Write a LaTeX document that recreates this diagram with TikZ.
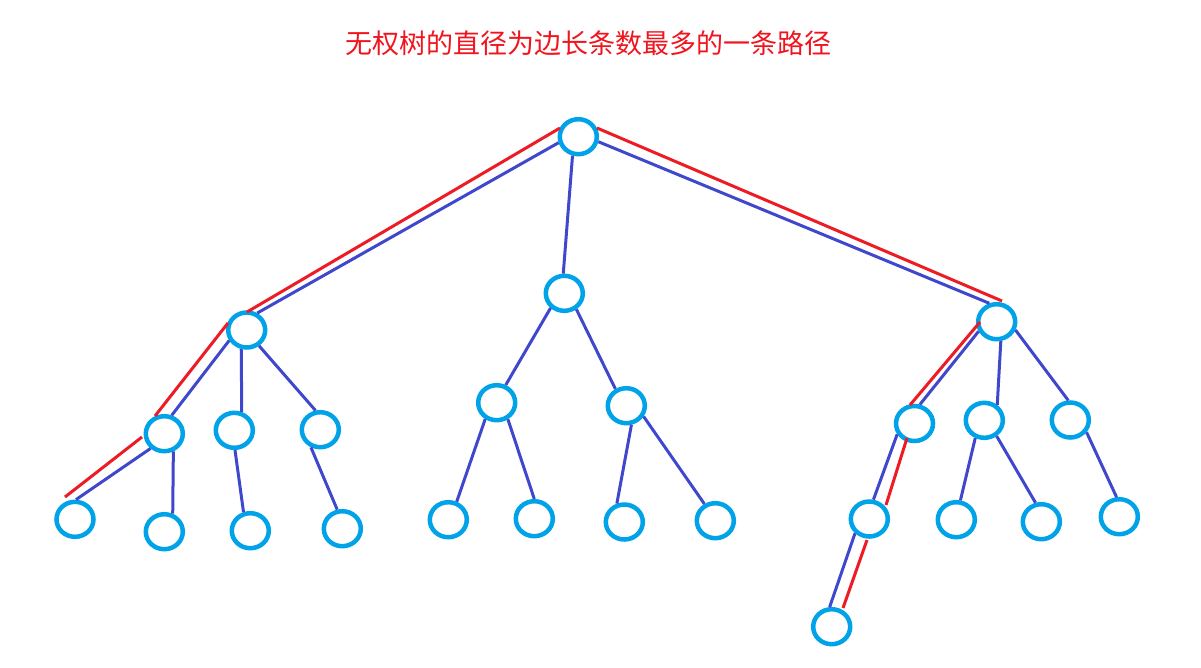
\documentclass[tikz,border=0pt]{standalone}
\usepackage{fontspec}
\newfontfamily\cjk{Noto Sans CJK SC}
\usetikzlibrary{shapes.geometric}
\definecolor{vtxc}{HTML}{00A2E8}
\definecolor{edgec}{HTML}{3F48CC}
\definecolor{pathc}{HTML}{ED1C24}
\definecolor{titlec}{HTML}{F0141E}
\tikzset{
  vtx/.style={ellipse, draw=vtxc, line width=4.5pt, minimum width=37pt, minimum height=35pt, inner sep=0pt},
  edge/.style={draw=edgec, line width=3pt},
  diam/.style={draw=pathc, line width=3pt}
}
\begin{document}
\begin{tikzpicture}[x=1pt,y=-1pt]
\useasboundingbox (0,0) rectangle (1201,667);
\node[text=titlec, font=\cjk\fontsize{27}{27}\selectfont] (title) at (588,43) {无权树的直径为边长条数最多的一条路径};
% nodes
\node[vtx] (r) at (578.3,136.7) {};
\node[vtx] (A) at (246.7,330) {};
\node[vtx] (B) at (564.3,293.3) {};
\node[vtx] (C) at (996.7,321.7) {};
\node[vtx] (A1) at (164.3,433.7) {};
\node[vtx] (A2) at (234.3,430.3) {};
\node[vtx] (A3) at (320.3,429.7) {};
\node[vtx] (B1) at (496.7,402.7) {};
\node[vtx] (B2) at (626.3,405.7) {};
\node[vtx] (C1) at (914.5,423.5) {};
\node[vtx] (C2) at (984.3,420.3) {};
\node[vtx] (C3) at (1070.3,420) {};
\node[vtx] (A1a) at (75,519.3) {};
\node[vtx] (A1b) at (164.3,531.7) {};
\node[vtx] (A2a) at (250.3,530.7) {};
\node[vtx] (A3a) at (342.3,528.7) {};
\node[vtx] (B1a) at (448.3,519.7) {};
\node[vtx] (B1b) at (534.3,518.7) {};
\node[vtx] (B2a) at (624.3,522) {};
\node[vtx] (B2b) at (715.3,520.7) {};
\node[vtx] (C1a) at (869.3,519) {};
\node[vtx] (C2a) at (956.3,519.7) {};
\node[vtx] (C2b) at (1041.3,521.7) {};
\node[vtx] (C3a) at (1119.3,516.7) {};
\node[vtx] (C1aa) at (831.7,626.7) {};
% blue edges
\draw[edge] (r.197) -- (A.58);
\draw[edge] (r.-107) -- (B.93);
\draw[edge] (r.-14) -- (C.112);
\draw[edge] (A.211) -- (A1.68);
\draw[edge] (A.-106) -- (A2.68);
\draw[edge] (A.-52) -- (A3.104);
\draw[edge] (A1.-133) -- (A1a.87);
\draw[edge] (A1.-63) -- (A1b.65);
\draw[edge] (A2.-88) -- (A2a.110);
\draw[edge] (A3.-118) -- (A3a.105);
\draw[edge] (B.-133) -- (B1.63);
\draw[edge] (B.-53) -- (B2.123);
\draw[edge] (B1.-125) -- (B1a.65);
\draw[edge] (B1.-56) -- (B1b.90);
\draw[edge] (B2.-75) -- (B2a.112);
\draw[edge] (B2.-32) -- (B2b.123);
\draw[edge] (C.-152) -- (C1.74);
\draw[edge] (C.-78) -- (C2.50);
\draw[edge] (C.-24) -- (C3.96);
\draw[edge] (C1.-148) -- (C1a.78);
\draw[edge] (C1a.-135) -- (C1aa.96);
\draw[edge] (C2.-117) -- (C2a.78);
\draw[edge] (C2.-52) -- (C2b.107);
\draw[edge] (C3.-37) -- (C3a.98);
% red diameter path
\coordinate (p1) at (65,497);
\coordinate (p2) at (142,437);
\coordinate (p3) at (155,416);
\coordinate (p4) at (228,323);
\coordinate (p5) at (247,312);
\coordinate (p6) at (560,128);
\coordinate (p7) at (597,128);
\coordinate (p8) at (1002,301);
\coordinate (p9) at (980,322);
\coordinate (p10) at (910,405);
\coordinate (p11) at (907,438);
\coordinate (p12) at (886,505);
\coordinate (p13) at (867,540);
\coordinate (p14) at (843,608);
\draw[diam] (p1) -- (p2);
\draw[diam] (p3) -- (p4);
\draw[diam] (p5) -- (p6);
\draw[diam] (p7) -- (p8);
\draw[diam] (p9) -- (p10);
\draw[diam] (p11) -- (p12);
\draw[diam] (p13) -- (p14);
\end{tikzpicture}
\end{document}
